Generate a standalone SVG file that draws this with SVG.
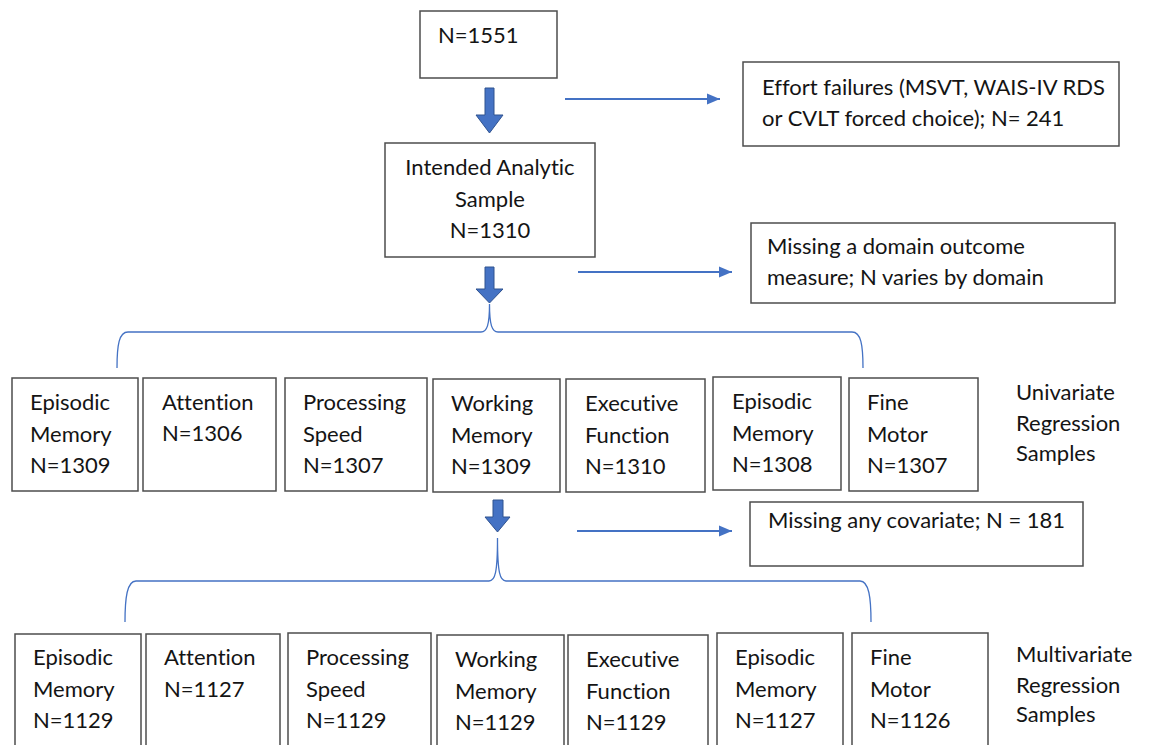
<svg xmlns="http://www.w3.org/2000/svg" width="1154" height="745" viewBox="0 0 1154 745">
  <defs>
    <style>
      .box { fill: #ffffff; stroke: #4d4d4d; stroke-width: 1.5; }
      .t { font-family: Lato, "Liberation Sans", sans-serif; font-size: 22px; fill: #141414; font-variant-ligatures: none; }
      .tc { text-anchor: middle; }
      .flow { fill: none; stroke: #4472C4; stroke-width: 1.8; }
      .brace { fill: none; stroke: #4472C4; stroke-width: 1.3; }
      .block { fill: #4472C4; stroke: #2F528F; stroke-width: 1; }
    </style>
    <marker id="head" markerWidth="14" markerHeight="12" refX="13" refY="6" orient="auto" markerUnits="userSpaceOnUse">
      <path d="M0,0.5 L13,6 L0,11.5 Z" fill="#4472C4"/>
    </marker>
  </defs>
  <rect width="1154" height="745" fill="#ffffff"/>

  <!-- connectors: block arrows, exclusion arrows, braces -->
  <g id="connectors">
    <path class="block" d="M485,88 L494,88 L494,115 L503,115 L489.5,133 L476,115 L485,115 Z"/>
    <path class="block" d="M485,267 L494,267 L494,289 L503,289 L489.5,303 L476,289 L485,289 Z"/>
    <path class="block" d="M493,500 L503,500 L503,517 L510,517 L497.5,532 L485,517 L493,517 Z"/>

    <line class="flow" x1="565" y1="99" x2="720" y2="99" marker-end="url(#head)"/>
    <line class="flow" x1="578" y1="272" x2="732" y2="272" marker-end="url(#head)"/>
    <line class="flow" x1="577" y1="531" x2="732" y2="531" marker-end="url(#head)"/>

    <path class="brace" d="M117,368 C117,345 119,332 128,332 L481,332 C487,332 489.5,325 489.5,304 C489.5,325 492,332 498,332 L852,332 C861,332 863,345 863,368"/>
    <path class="brace" d="M125,622 C125,598 127,581 136,581 L489,581 C495,581 497.5,573 497.5,538 C497.5,573 500,581 506,581 L860,581 C869,581 871,598 871,622"/>
  </g>

  <g id="start">
    <rect class="box" x="420" y="11" width="137" height="67"/>
    <text class="t" x="438" y="43">N=1551</text>
  </g>

  <g id="effort">
    <rect class="box" x="743" y="62" width="376" height="84"/>
    <text class="t" x="762" y="95">Effort failures (MSVT, WAIS-IV RDS</text>
    <text class="t" x="762" y="126">or CVLT forced choice); N= 241</text>
  </g>

  <g id="intended">
    <rect class="box" x="385" y="143" width="210" height="114"/>
    <text class="t tc" x="490" y="175">Intended Analytic</text>
    <text class="t tc" x="490" y="207">Sample</text>
    <text class="t tc" x="490" y="238">N=1310</text>
  </g>

  <g id="missing-domain">
    <rect class="box" x="751" y="223" width="364" height="80"/>
    <text class="t" x="767" y="254">Missing a domain outcome</text>
    <text class="t" x="767" y="285">measure; N varies by domain</text>
  </g>

  <!-- univariate row -->
  <g id="u-episodic">
    <rect class="box" x="12" y="378" width="126" height="113"/>
    <text class="t" x="30" y="410">Episodic</text>
    <text class="t" x="30" y="442">Memory</text>
    <text class="t" x="30" y="473">N=1309</text>
  </g>
  <g id="u-attention">
    <rect class="box" x="143" y="378" width="133" height="113"/>
    <text class="t" x="162" y="410">Attention</text>
    <text class="t" x="162" y="441">N=1306</text>
  </g>
  <g id="u-processing">
    <rect class="box" x="285" y="378" width="142" height="113"/>
    <text class="t" x="303" y="410">Processing</text>
    <text class="t" x="303" y="442">Speed</text>
    <text class="t" x="303" y="473">N=1307</text>
  </g>
  <g id="u-working">
    <rect class="box" x="433" y="379" width="127" height="113"/>
    <text class="t" x="451" y="411">Working</text>
    <text class="t" x="451" y="443">Memory</text>
    <text class="t" x="451" y="474">N=1309</text>
  </g>
  <g id="u-executive">
    <rect class="box" x="566" y="379" width="139" height="113"/>
    <text class="t" x="585" y="411">Executive</text>
    <text class="t" x="585" y="443">Function</text>
    <text class="t" x="585" y="474">N=1310</text>
  </g>
  <g id="u-episodic-2">
    <rect class="box" x="713" y="377" width="128" height="113"/>
    <text class="t" x="732" y="409">Episodic</text>
    <text class="t" x="732" y="441">Memory</text>
    <text class="t" x="732" y="472">N=1308</text>
  </g>
  <g id="u-fine-motor">
    <rect class="box" x="849" y="378" width="129" height="113"/>
    <text class="t" x="867" y="410">Fine</text>
    <text class="t" x="867" y="442">Motor</text>
    <text class="t" x="867" y="473">N=1307</text>
  </g>
  <g id="u-label">
    <text class="t" x="1016" y="400">Univariate</text>
    <text class="t" x="1016" y="431">Regression</text>
    <text class="t" x="1016" y="461">Samples</text>
  </g>

  <g id="missing-covariate">
    <rect class="box" x="750" y="502" width="333" height="64"/>
    <text class="t" x="768" y="528">Missing any covariate; N = 181</text>
  </g>

  <!-- multivariate row -->
  <g id="m-episodic">
    <rect class="box" x="15" y="634" width="126" height="120"/>
    <text class="t" x="33" y="665">Episodic</text>
    <text class="t" x="33" y="697">Memory</text>
    <text class="t" x="33" y="728">N=1129</text>
  </g>
  <g id="m-attention">
    <rect class="box" x="146" y="634" width="134" height="120"/>
    <text class="t" x="164" y="665">Attention</text>
    <text class="t" x="164" y="697">N=1127</text>
  </g>
  <g id="m-processing">
    <rect class="box" x="288" y="633" width="143" height="120"/>
    <text class="t" x="306" y="665">Processing</text>
    <text class="t" x="306" y="697">Speed</text>
    <text class="t" x="306" y="728">N=1129</text>
  </g>
  <g id="m-working">
    <rect class="box" x="437" y="635" width="127" height="120"/>
    <text class="t" x="455" y="667">Working</text>
    <text class="t" x="455" y="699">Memory</text>
    <text class="t" x="455" y="730">N=1129</text>
  </g>
  <g id="m-executive">
    <rect class="box" x="568" y="635" width="140" height="120"/>
    <text class="t" x="586" y="667">Executive</text>
    <text class="t" x="586" y="699">Function</text>
    <text class="t" x="586" y="730">N=1129</text>
  </g>
  <g id="m-episodic-2">
    <rect class="box" x="717" y="633" width="126" height="120"/>
    <text class="t" x="735" y="665">Episodic</text>
    <text class="t" x="735" y="697">Memory</text>
    <text class="t" x="735" y="728">N=1127</text>
  </g>
  <g id="m-fine-motor">
    <rect class="box" x="852" y="633" width="136" height="120"/>
    <text class="t" x="870" y="665">Fine</text>
    <text class="t" x="870" y="697">Motor</text>
    <text class="t" x="870" y="728">N=1126</text>
  </g>
  <g id="m-label">
    <text class="t" x="1016" y="662">Multivariate</text>
    <text class="t" x="1016" y="693">Regression</text>
    <text class="t" x="1016" y="722">Samples</text>
  </g>
</svg>
